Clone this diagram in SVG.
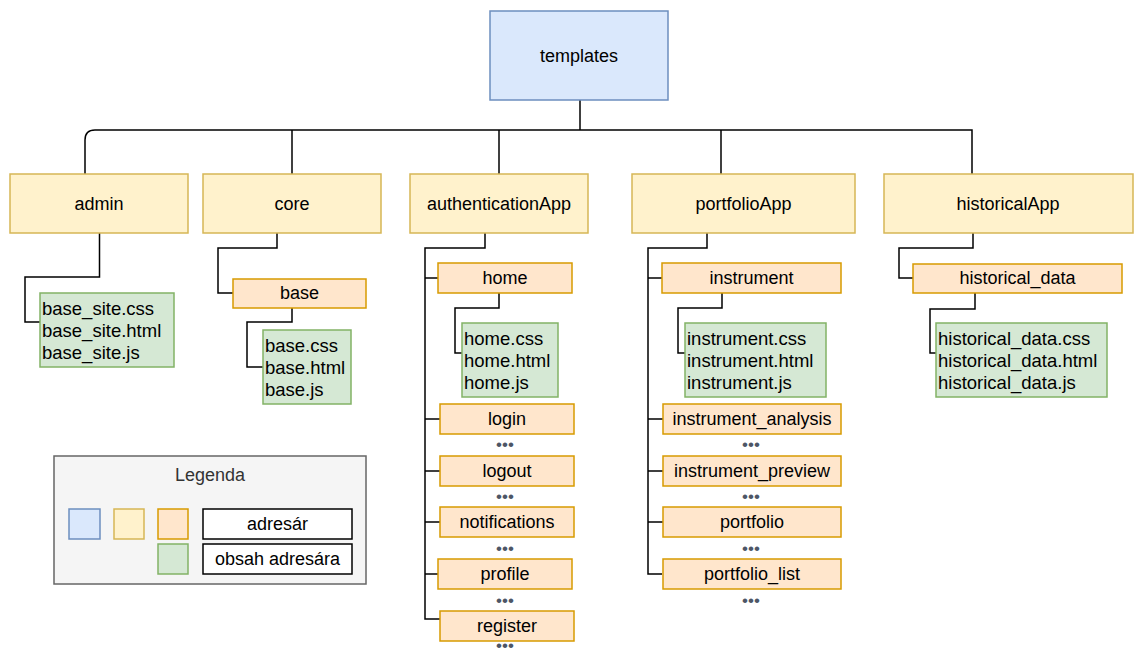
<svg xmlns="http://www.w3.org/2000/svg" width="1134" height="655" viewBox="0 0 1134 655">
  <style>
    text { font-family: "Liberation Sans", Arial, sans-serif; font-size: 18px; fill: #000; }
    .c { text-anchor: middle; }
    .f { font-size: 18.5px; }
    .root { fill: #dae8fc; stroke: #6c8ebf; stroke-width: 1.5; }
    .app { fill: #fff2cc; stroke: #d6b656; stroke-width: 1.5; }
    .dir { fill: #ffe6cc; stroke: #d79b00; stroke-width: 1.5; }
    .files { fill: #d5e8d4; stroke: #82b366; stroke-width: 1.5; }
    .plain { fill: #fff; stroke: #000; stroke-width: 1.5; }
    .legend { fill: #f5f5f5; stroke: #666; stroke-width: 1.5; }
    .dots { fill: #4d5666; text-anchor: middle; font-size: 17px; }
    #connectors path { fill: none; stroke: #000; stroke-width: 1.5; }
  </style>

  <!-- tree connectors -->
  <g id="connectors">
    <path d="M580 100 V130"/>
    <path d="M972 174 V130 H95 Q85 130 85 140 V174"/>
    <path d="M292 130 V174"/>
    <path d="M499 130 V174"/>
    <path d="M721 130 V174"/>
    <!-- admin -->
    <path d="M99.5 233 V277 H25 V322 H40"/>
    <!-- core -->
    <path d="M277 233 V248 H218 V293 H233"/>
    <path d="M292 308 V322 H247 V367 H263"/>
    <!-- authenticationApp -->
    <path d="M485 233 V248 H425 V619 H440"/>
    <path d="M425 278 H438"/>
    <path d="M425 419 H440"/>
    <path d="M425 471 H440"/>
    <path d="M425 522 H440"/>
    <path d="M425 574 H438"/>
    <path d="M499 293 V308 H455 V353 H462"/>
    <!-- portfolioApp -->
    <path d="M707 233 V248 H648 V574 H662"/>
    <path d="M648 278 H662"/>
    <path d="M648 419 H663"/>
    <path d="M648 471 H663"/>
    <path d="M648 522 H663"/>
    <path d="M722 293 V308 H678 V353 H685"/>
    <!-- historicalApp -->
    <path d="M973 233 V248 H899 V278 H913"/>
    <path d="M975 293 V309 H930 V353 H936"/>
  </g>

  <g id="templates">
    <rect class="root" x="490" y="11" width="178" height="89"/>
    <text class="c" x="579" y="62">templates</text>
  </g>

  <g id="admin">
    <rect class="app" x="10" y="174" width="178" height="59"/>
    <text class="c" x="99" y="210">admin</text>
  </g>
  <g id="admin-files">
    <rect class="files" x="40" y="293" width="134" height="74"/>
    <text class="f" x="42" y="315">base_site.css</text>
    <text class="f" x="42" y="337">base_site.html</text>
    <text class="f" x="42" y="359">base_site.js</text>
  </g>

  <g id="core">
    <rect class="app" x="203" y="174" width="178" height="59"/>
    <text class="c" x="292" y="210">core</text>
  </g>
  <g id="core-base">
    <rect class="dir" x="233" y="279" width="133" height="29"/>
    <text class="c" x="299.5" y="299">base</text>
  </g>
  <g id="core-base-files">
    <rect class="files" x="263" y="330" width="88" height="74"/>
    <text class="f" x="265" y="352">base.css</text>
    <text class="f" x="265" y="374">base.html</text>
    <text class="f" x="265" y="396">base.js</text>
  </g>

  <g id="authenticationApp">
    <rect class="app" x="410" y="174" width="178" height="59"/>
    <text class="c" x="499" y="210">authenticationApp</text>
  </g>
  <g id="auth-home">
    <rect class="dir" x="438" y="263" width="134" height="30"/>
    <text class="c" x="505" y="284">home</text>
  </g>
  <g id="auth-home-files">
    <rect class="files" x="462" y="323" width="96" height="74"/>
    <text class="f" x="464" y="345">home.css</text>
    <text class="f" x="464" y="367">home.html</text>
    <text class="f" x="464" y="389">home.js</text>
  </g>
  <g id="auth-login">
    <rect class="dir" x="440" y="404" width="134" height="30"/>
    <text class="c" x="507" y="425">login</text>
    <text class="dots" x="505" y="450">•••</text>
  </g>
  <g id="auth-logout">
    <rect class="dir" x="440" y="456" width="134" height="30"/>
    <text class="c" x="507" y="477">logout</text>
    <text class="dots" x="505" y="502">•••</text>
  </g>
  <g id="auth-notifications">
    <rect class="dir" x="440" y="507" width="134" height="30"/>
    <text class="c" x="507" y="528">notifications</text>
    <text class="dots" x="505" y="554">•••</text>
  </g>
  <g id="auth-profile">
    <rect class="dir" x="438" y="559" width="134" height="30"/>
    <text class="c" x="505" y="580">profile</text>
    <text class="dots" x="505" y="606">•••</text>
  </g>
  <g id="auth-register">
    <rect class="dir" x="440" y="611" width="134" height="30"/>
    <text class="c" x="507" y="632">register</text>
    <text class="dots" x="505" y="651">•••</text>
  </g>

  <g id="portfolioApp">
    <rect class="app" x="632" y="174" width="223" height="59"/>
    <text class="c" x="743.5" y="210">portfolioApp</text>
  </g>
  <g id="pf-instrument">
    <rect class="dir" x="662" y="263" width="179" height="30"/>
    <text class="c" x="751.5" y="284">instrument</text>
  </g>
  <g id="pf-instrument-files">
    <rect class="files" x="685" y="323" width="141" height="74"/>
    <text class="f" x="687" y="345">instrument.css</text>
    <text class="f" x="687" y="367">instrument.html</text>
    <text class="f" x="687" y="389">instrument.js</text>
  </g>
  <g id="pf-instrument-analysis">
    <rect class="dir" x="663" y="404" width="178" height="30"/>
    <text class="c" x="752" y="425">instrument_analysis</text>
    <text class="dots" x="751" y="450">•••</text>
  </g>
  <g id="pf-instrument-preview">
    <rect class="dir" x="663" y="456" width="178" height="30"/>
    <text class="c" x="752" y="477">instrument_preview</text>
    <text class="dots" x="751" y="502">•••</text>
  </g>
  <g id="pf-portfolio">
    <rect class="dir" x="663" y="507" width="178" height="30"/>
    <text class="c" x="752" y="528">portfolio</text>
    <text class="dots" x="751" y="554">•••</text>
  </g>
  <g id="pf-portfolio-list">
    <rect class="dir" x="663" y="559" width="178" height="30"/>
    <text class="c" x="752" y="580">portfolio_list</text>
    <text class="dots" x="751" y="606">•••</text>
  </g>

  <g id="historicalApp">
    <rect class="app" x="884" y="174" width="249" height="59"/>
    <text class="c" x="1008" y="210">historicalApp</text>
  </g>
  <g id="hist-data">
    <rect class="dir" x="913" y="264" width="209" height="29"/>
    <text class="c" x="1017.5" y="284">historical_data</text>
  </g>
  <g id="hist-data-files">
    <rect class="files" x="936" y="323" width="171" height="74"/>
    <text class="f" x="938" y="345">historical_data.css</text>
    <text class="f" x="938" y="367">historical_data.html</text>
    <text class="f" x="938" y="389">historical_data.js</text>
  </g>

  <g id="legend">
    <rect class="legend" x="54" y="456" width="312" height="128"/>
    <text class="c" x="210" y="481" style="fill:#333">Legenda</text>
    <rect class="root" x="69" y="509" width="31" height="30"/>
    <rect class="app" x="114" y="509" width="30" height="30"/>
    <rect class="dir" x="158" y="509" width="30" height="30"/>
    <rect class="files" x="158" y="544" width="30" height="30"/>
    <rect class="plain" x="203" y="509" width="149" height="30"/>
    <text class="c" x="277.5" y="530">adresár</text>
    <rect class="plain" x="203" y="544" width="149" height="30"/>
    <text class="c" x="277.5" y="565">obsah adresára</text>
  </g>
</svg>
